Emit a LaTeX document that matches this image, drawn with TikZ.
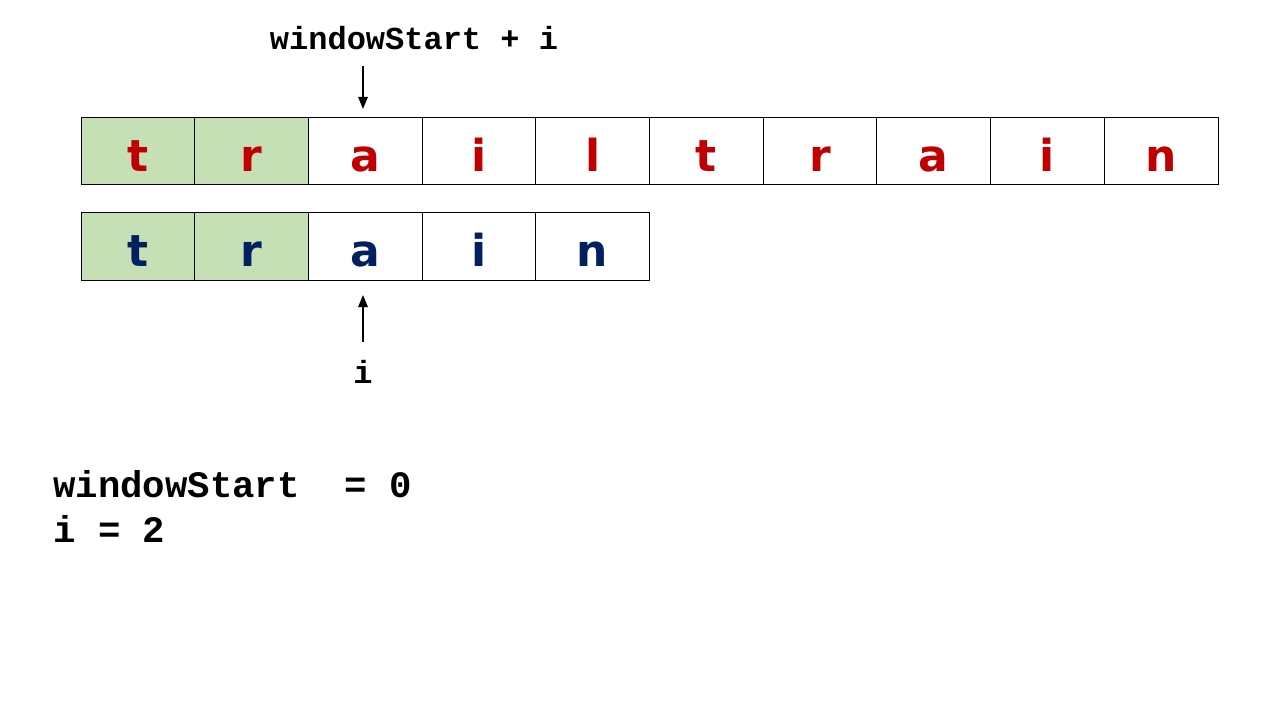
\documentclass[tikz,border=0pt]{standalone}
\usepackage{fontspec}
\setmonofont{Liberation Mono}
\newfontfamily\letterfont{DejaVu Sans}
\usetikzlibrary{arrows.meta}
\definecolor{cellred}{HTML}{C00000}
\definecolor{cellnavy}{HTML}{002060}
\definecolor{cellgreen}{HTML}{C5E0B4}
\begin{document}
\begin{tikzpicture}[x=0.75pt,y=-0.75pt,
  cell/.style={draw=black, line width=0.75pt, minimum width=85.275pt,
    minimum height=50.25pt, inner sep=0pt, outer sep=0pt, anchor=north west,
    font=\letterfont\bfseries\fontsize{33}{33}\selectfont,
    text height=30.75pt, text depth=0pt},
  toprow/.style={cell, text=cellred},
  botrow/.style={cell, text=cellnavy},
  codetext/.style={font=\ttfamily\bfseries\fontsize{#1}{#1}\selectfont, inner sep=0pt},
  pointer/.style={line width=1.5pt, -{Triangle[length=9pt,width=7pt]}}]
\useasboundingbox[fill=white] (0,0) rectangle (1280,720);
\foreach \l/\f [count=\k from 0] in {t/cellgreen,r/cellgreen,a/white,i/white,l/white,t/white,r/white,a/white,i/white,n/white}
  \node[toprow, fill=\f] (top\k) at (81+113.7*\k,118) {\l};
\foreach \l/\f [count=\k from 0] in {t/cellgreen,r/cellgreen,a/white,i/white,n/white}
  \node[botrow, fill=\f] (bot\k) at (81+113.7*\k,213) {\l};
\node[codetext=24, anchor=base] (wslabel) at (414,50) {windowStart + i};
\coordinate (tarrowstart) at (363,66);
\coordinate (tarrowend) at (363,109);
\draw[pointer] (tarrowstart) -- (tarrowend);
\coordinate (barrowstart) at (363,342);
\coordinate (barrowend) at (363,295);
\draw[pointer] (barrowstart) -- (barrowend);
\node[codetext=24, anchor=base] (ilabel) at (363,383) {i};
\node[codetext=28, anchor=base west] (wsvalue) at (53,497) {windowStart\ \ = 0};
\node[codetext=28, anchor=base west] (ivalue) at (53,542) {i = 2};
\end{tikzpicture}
\end{document}
